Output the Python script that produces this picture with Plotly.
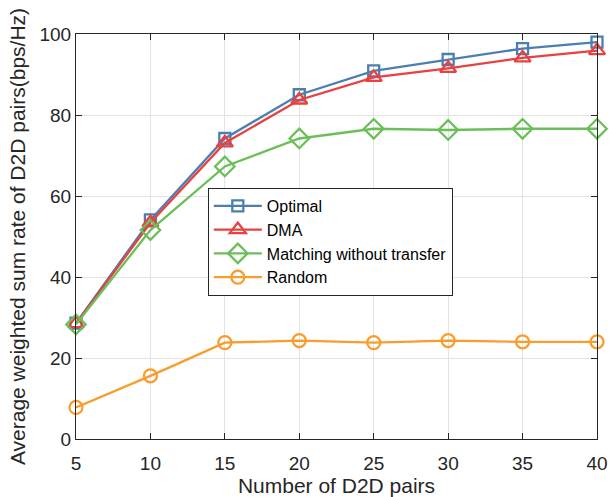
import plotly.graph_objects as go

x_pairs = [5, 10, 15, 20, 25, 30, 35, 40]
optimal = [28.6, 54.1, 74.2, 85.0, 90.9, 93.7, 96.4, 98.0]
dma = [28.5, 53.4, 73.1, 83.7, 89.3, 91.5, 94.1, 95.9]
matching = [28.3, 51.6, 67.3, 74.2, 76.6, 76.3, 76.6, 76.6]
random_ = [7.8, 15.6, 23.8, 24.3, 23.8, 24.3, 24.0, 24.0]

series = [
    ("Optimal", optimal, "#4C7FB1", "square-open", 11),
    ("DMA", dma, "#E8413F", "triangle-up-open", 14),
    ("Matching without transfer", matching, "#6BBF59", "diamond-open", 15),
    ("Random", random_, "#F89C2C", "circle-open", 13),
]

fig = go.Figure()
for name, vals, color, sym, size in series:
    fig.add_trace(go.Scatter(
        x=x_pairs, y=vals, name=name, mode="lines+markers",
        line=dict(color=color, width=2.3),
        marker=dict(symbol=sym, size=size, color=color, line=dict(color=color, width=2.3)),
        cliponaxis=False,
    ))

axis_common = dict(
    showline=True, linecolor="#262626", linewidth=1.2, mirror="ticks",
    ticks="inside", ticklen=6, tickcolor="#262626",
    showgrid=True, gridcolor="#E3E3E3", gridwidth=1, zeroline=False,
    tickfont=dict(family="Liberation Sans, Arial", size=19, color="#262626"),
    automargin=False,
)

fig.update_layout(
    width=609, height=497,
    margin=dict(l=76, r=12, t=34, b=58),
    paper_bgcolor="white", plot_bgcolor="white",
    font=dict(family="Liberation Sans, Arial", color="#262626"),
    xaxis=dict(range=[5, 40], tickvals=[5, 10, 15, 20, 25, 30, 35, 40],
               ticklabelstandoff=7,
               title=dict(text="Number of D2D pairs", font=dict(size=21), standoff=0),
               **axis_common),
    yaxis=dict(range=[0, 100], tickvals=[0, 20, 40, 60, 80, 100],
               title=dict(text="Average weighted sum rate of D2D pairs(bps/Hz)", font=dict(size=21), standoff=8),
               **axis_common),
    showlegend=True,
    legend=dict(
        x=0.253, y=0.62, xanchor="left", yanchor="top",
        bgcolor="white", bordercolor="#262626", borderwidth=1,
        font=dict(family="Liberation Sans, Arial", size=16, color="#000000"),
        itemwidth=48, tracegroupgap=0,
    ),
)

fig.write_html("out.html", config={"displayModeBar": False},
               post_script="document.body.style.margin='0';")
